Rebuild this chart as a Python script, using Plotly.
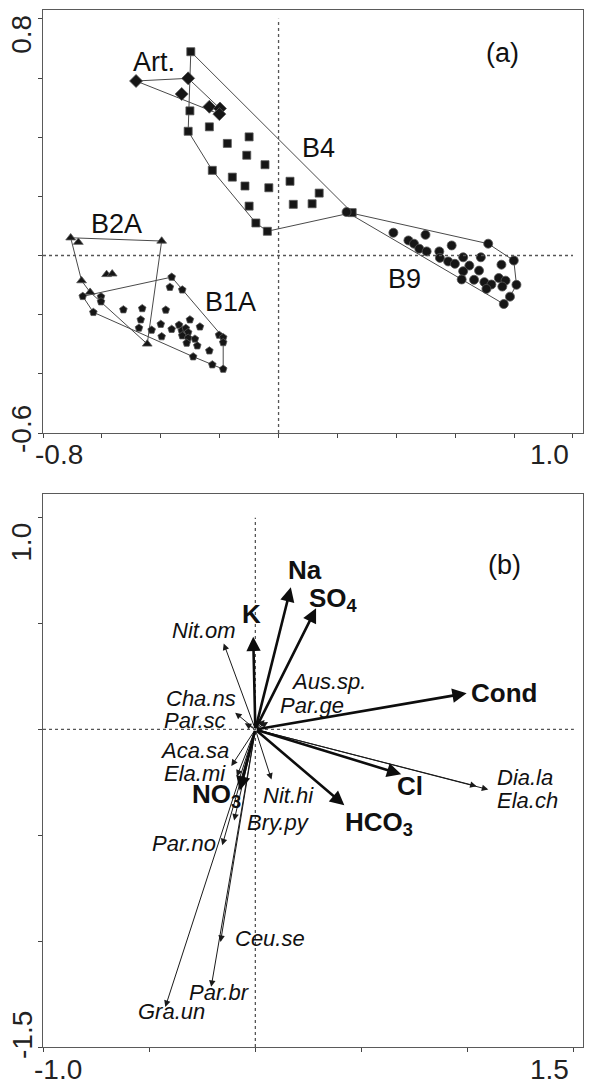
import plotly.graph_objects as go

W, H = 595, 1085
FONT = "Liberation Sans, Arial, sans-serif"
INK = "#111111"

# ---------------- Panel (a): sample scores ----------------
art_x = [-0.484, -0.307, -0.329, -0.235, -0.199, -0.201]
art_y = [0.590, 0.599, 0.546, 0.503, 0.497, 0.478]

b4_x = [-0.298, -0.301, -0.307, -0.235, -0.174, -0.100, -0.108, -0.046, -0.225, -0.157,
        -0.114, -0.033, 0.039, 0.138, 0.050, 0.114, -0.100, -0.077, -0.038, 0.250]
b4_y = [0.689, 0.489, 0.420, 0.435, 0.379, 0.401, 0.339, 0.307, 0.288, 0.265,
        0.235, 0.229, 0.251, 0.211, 0.173, 0.175, 0.167, 0.110, 0.082, 0.145]

b9_x = [0.231, 0.390, 0.499, 0.441, 0.460, 0.478, 0.503, 0.546, 0.588, 0.548,
        0.576, 0.599, 0.627, 0.687, 0.712, 0.648, 0.627, 0.681, 0.622, 0.664,
        0.699, 0.723, 0.706, 0.757, 0.748, 0.771, 0.760, 0.799, 0.808, 0.786, 0.765]
b9_y = [0.147, 0.077, 0.070, 0.051, 0.040, 0.023, 0.014, 0.014, 0.034, -0.008,
        -0.020, -0.028, -0.006, -0.006, 0.040, -0.034, -0.053, -0.051, -0.081, -0.082,
        -0.090, -0.098, -0.113, -0.031, -0.076, -0.085, -0.105, -0.017, -0.099, -0.139, -0.164]

b2a_x = [-0.706, -0.680, -0.397, -0.584, -0.565, -0.669, -0.640, -0.446]
b2a_y = [0.060, 0.045, 0.049, -0.064, -0.062, -0.085, -0.124, -0.299]

b1a_x = [-0.363, -0.369, -0.327, -0.665, -0.603, -0.603, -0.629, -0.527, -0.463, -0.383,
         -0.468, -0.474, -0.431, -0.400, -0.397, -0.363, -0.338, -0.329, -0.315, -0.307,
         -0.327, -0.307, -0.301, -0.267, -0.284, -0.312, -0.276, -0.235, -0.290, -0.202,
         -0.188, -0.188, -0.225, -0.188]
b1a_y = [-0.073, -0.107, -0.116, -0.138, -0.139, -0.156, -0.192, -0.183, -0.179, -0.184,
         -0.217, -0.245, -0.252, -0.232, -0.274, -0.249, -0.235, -0.254, -0.246, -0.260,
         -0.271, -0.279, -0.217, -0.241, -0.282, -0.296, -0.305, -0.322, -0.342, -0.269,
         -0.277, -0.294, -0.369, -0.384]

group_names = ["Art.", "B4", "B9", "B2A", "B1A"]

# ---------------- Panel (b): biplot ----------------
env_names = ["Cond", "Na", "SO<sub>4</sub>", "K", "Cl", "HCO<sub>3</sub>", "NO<sub>3</sub>"]
env_x = [0.995, 0.167, 0.286, -0.010, 0.687, 0.419, -0.074]
env_y = [0.171, 0.671, 0.572, 0.438, -0.212, -0.358, -0.289]

spp_names = ["Nit.om", "Cha.ns", "Par.sc", "Aus.sp.", "Par.ge", "Aca.sa", "Ela.mi",
             "Nit.hi", "Bry.py", "Par.no", "Ceu.se", "Par.br", "Gra.un", "Dia.la", "Ela.ch"]
spp_x = [-0.149, -0.095, -0.050, 0.044, 0.060, -0.113, -0.087,
         0.076, -0.100, -0.156, -0.164, -0.208, -0.424, 1.042, 1.097]
spp_y = [0.406, 0.079, 0.029, 0.044, 0.035, -0.173, -0.222,
         -0.237, -0.430, -0.547, -1.004, -1.216, -1.311, -0.268, -0.284]

# axis ticks and end labels
a_xticks = [-0.8, -0.6, -0.4, -0.2, 0.0, 0.2, 0.4, 0.6, 0.8, 1.0]
a_yticks = [-0.6, -0.4, -0.2, 0.0, 0.2, 0.4, 0.6, 0.8]
a_xlabels = ["-0.8", "1.0"]
a_ylabels = ["-0.6", "0.8"]
b_xticks = [-1.0, -0.5, 0.0, 0.5, 1.0, 1.5]
b_yticks = [-1.5, -1.0, -0.5, 0.0, 0.5, 1.0]
b_xlabels = ["-1.0", "1.5"]
b_ylabels = ["-1.5", "1.0"]

# ---------------- placement / style (not data) ----------------
group_label_pos = {"Art.": (-0.423, 0.654), "B4": (0.134, 0.363), "B9": (0.429, -0.081),
                   "B2A": (-0.549, 0.105), "B1A": (-0.162, -0.156)}
group_symbol = {"Art.": ("diamond", 10), "B4": ("square", 8), "B9": ("circle", 9),
                "B2A": ("triangle-up", 8.5), "B1A": ("pentagon", 8)}

env_label_pos = {  # (x, y, xanchor)
    "Cond": (1.004, 0.171, "left"), "Na": (0.233, 0.755, "center"),
    "SO<sub>4</sub>": (0.243, 0.612, "left"), "K": (-0.020, 0.543, "center"),
    "Cl": (0.730, -0.269, "center"), "HCO<sub>3</sub>": (0.413, -0.442, "left"),
    "NO<sub>3</sub>": (-0.306, -0.312, "left"),
}
spp_label_pos = {
    "Nit.om": (-0.084, 0.469, "right"), "Cha.ns": (-0.084, 0.146, "right"),
    "Par.sc": (-0.131, 0.040, "right"), "Aus.sp.": (0.157, 0.228, "left"),
    "Par.ge": (0.105, 0.115, "left"), "Aca.sa": (-0.117, -0.098, "right"),
    "Ela.mi": (-0.131, -0.210, "right"), "Nit.hi": (0.025, -0.311, "left"),
    "Bry.py": (-0.048, -0.440, "left"), "Par.no": (-0.178, -0.538, "right"),
    "Ceu.se": (-0.103, -0.987, "left"), "Par.br": (-0.168, -1.244, "center"),
    "Gra.un": (-0.395, -1.330, "center"), "Dia.la": (1.127, -0.225, "left"),
    "Ela.ch": (1.127, -0.334, "left"),
}

LABEL_SIZE = 27
SPP_SIZE = 22
ENV_SIZE = 26
TICK_SIZE = 28


def convex_hull(xs, ys):
    pts = sorted(set(zip(xs, ys)))
    if len(pts) < 3:
        return pts

    def cross(o, a, b):
        return (a[0] - o[0]) * (b[1] - o[1]) - (a[1] - o[1]) * (b[0] - o[0])

    lower, upper = [], []
    for p in pts:
        while len(lower) >= 2 and cross(lower[-2], lower[-1], p) <= 0:
            lower.pop()
        lower.append(p)
    for p in reversed(pts):
        while len(upper) >= 2 and cross(upper[-2], upper[-1], p) <= 0:
            upper.pop()
        upper.append(p)
    return lower[:-1] + upper[:-1]


fig = go.Figure()

groups = [("Art.", art_x, art_y), ("B4", b4_x, b4_y), ("B9", b9_x, b9_y),
          ("B2A", b2a_x, b2a_y), ("B1A", b1a_x, b1a_y)]

for name, gx, gy in groups:
    hull = convex_hull(gx, gy)
    hull.append(hull[0])
    fig.add_trace(go.Scatter(x=[p[0] for p in hull], y=[p[1] for p in hull], mode="lines",
                             line=dict(color="#4a4a4a", width=1), xaxis="x", yaxis="y",
                             showlegend=False, hoverinfo="skip"))
for name, gx, gy in groups:
    sym, sz = group_symbol[name]
    fig.add_trace(go.Scatter(x=gx, y=gy, mode="markers", name=name, xaxis="x", yaxis="y",
                             marker=dict(symbol=sym, size=sz, color="#161616",
                                         line=dict(color="#555555", width=0.8)),
                             showlegend=False))

annotations = []
shapes = []

# group labels
for name in group_names:
    lx, ly = group_label_pos[name]
    annotations.append(dict(x=lx, y=ly, xref="x", yref="y", text=name, showarrow=False,
                            font=dict(family=FONT, size=LABEL_SIZE, color=INK),
                            xanchor="center", yanchor="middle"))
annotations.append(dict(x=0.759, y=0.685, xref="x", yref="y", text="(a)", showarrow=False,
                        font=dict(family=FONT, size=LABEL_SIZE, color=INK)))

# dotted zero lines
shapes += [
    dict(type="line", xref="x", yref="y", x0=0, x1=0, y0=min(a_yticks), y1=max(a_yticks),
         line=dict(color="#555", width=1.3, dash="dot")),
    dict(type="line", xref="x", yref="y", y0=0, y1=0, x0=min(a_xticks), x1=max(a_xticks),
         line=dict(color="#555", width=1.3, dash="dot")),
    dict(type="line", xref="x2", yref="y2", x0=0, x1=0, y0=min(b_yticks), y1=max(b_yticks),
         line=dict(color="#555", width=1.3, dash="dot")),
    dict(type="line", xref="x2", yref="y2", y0=0, y1=0, x0=min(b_xticks), x1=max(b_xticks),
         line=dict(color="#555", width=1.3, dash="dot")),
]

# species arrows (thin)
for nm, sx, sy in zip(spp_names, spp_x, spp_y):
    annotations.append(dict(x=sx, y=sy, ax=0, ay=0, xref="x2", yref="y2", axref="x2", ayref="y2",
                            text="", showarrow=True, arrowhead=2, arrowsize=1.3, arrowwidth=1,
                            arrowcolor="#1a1a1a", standoff=0, startstandoff=0))
    lx, ly, anc = spp_label_pos[nm]
    annotations.append(dict(x=lx, y=ly, xref="x2", yref="y2", text="<i>" + nm + "</i>",
                            showarrow=False, xanchor=anc, yanchor="middle",
                            font=dict(family=FONT, size=SPP_SIZE, color=INK)))
# environmental arrows (bold)
for nm, ex, ey in zip(env_names, env_x, env_y):
    annotations.append(dict(x=ex, y=ey, ax=0, ay=0, xref="x2", yref="y2", axref="x2", ayref="y2",
                            text="", showarrow=True, arrowhead=2, arrowsize=1.1, arrowwidth=2.6,
                            arrowcolor="#0d0d0d", standoff=0, startstandoff=0))
    lx, ly, anc = env_label_pos[nm]
    annotations.append(dict(x=lx, y=ly, xref="x2", yref="y2", text="<b>" + nm + "</b>",
                            showarrow=False, xanchor=anc, yanchor="middle",
                            font=dict(family=FONT, size=ENV_SIZE, color=INK)))
annotations.append(dict(x=1.175, y=0.776, xref="x2", yref="y2", text="(b)", showarrow=False,
                        font=dict(family=FONT, size=LABEL_SIZE, color=INK)))

# axis end labels
tick_font = dict(family=FONT, size=TICK_SIZE, color="#222")
annotations += [
    dict(x=min(a_xticks), y=min(a_yticks), xref="x", yref="y", text=a_xlabels[0], showarrow=False,
         xshift=16, yshift=-22, font=tick_font),
    dict(x=max(a_xticks), y=min(a_yticks), xref="x", yref="y", text=a_xlabels[1], showarrow=False,
         xshift=-23, yshift=-22, font=tick_font),
    dict(x=min(a_xticks), y=min(a_yticks), xref="x", yref="y", text=a_ylabels[0], showarrow=False,
         xshift=-21, yshift=4, textangle=-90, font=tick_font),
    dict(x=min(a_xticks), y=max(a_yticks), xref="x", yref="y", text=a_ylabels[1], showarrow=False,
         xshift=-21, yshift=-16, textangle=-90, font=tick_font),
    dict(x=min(b_xticks), y=min(b_yticks), xref="x2", yref="y2", text=b_xlabels[0], showarrow=False,
         xshift=15, yshift=-22, font=tick_font),
    dict(x=max(b_xticks), y=min(b_yticks), xref="x2", yref="y2", text=b_xlabels[1], showarrow=False,
         xshift=-24, yshift=-22, font=tick_font),
    dict(x=min(b_xticks), y=min(b_yticks), xref="x2", yref="y2", text=b_ylabels[0], showarrow=False,
         xshift=-21, yshift=12, textangle=-90, font=tick_font),
    dict(x=min(b_xticks), y=max(b_yticks), xref="x2", yref="y2", text=b_ylabels[1], showarrow=False,
         xshift=-21, yshift=-25, textangle=-90, font=tick_font),
]

axis_common = dict(showgrid=False, zeroline=False, showline=True, mirror=True,
                   linecolor="#5a5a5a", linewidth=1.3, ticks="outside", ticklen=4,
                   tickcolor="#444", tickwidth=1, showticklabels=False)

x0p, x1p = 43 / W, 583 / W
fig.update_layout(
    width=W, height=H, margin=dict(l=0, r=0, t=0, b=0),
    paper_bgcolor="white", plot_bgcolor="white", showlegend=False,
    xaxis=dict(domain=[x0p, x1p], range=[-0.8, 1.034], tickvals=a_xticks, anchor="y", **axis_common),
    yaxis=dict(domain=[1 - 433 / H, 1 - 10 / H], range=[-0.6, 0.83], tickvals=a_yticks, anchor="x",
               **axis_common),
    xaxis2=dict(domain=[x0p, x1p], range=[-1.0, 1.543], tickvals=b_xticks, anchor="y2", **axis_common),
    yaxis2=dict(domain=[1 - 1047 / H, 1 - 494 / H], range=[-1.5, 1.112], tickvals=b_yticks, anchor="x2",
                **axis_common),
    annotations=annotations, shapes=shapes,
)

fig.write_html("out.html", config={"displayModeBar": False},
               post_script="document.body.style.margin='0';document.body.style.overflow='hidden';")
